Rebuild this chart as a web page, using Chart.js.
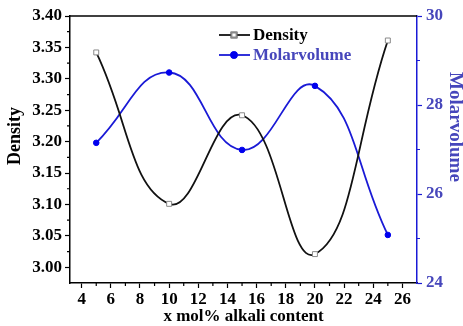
<!DOCTYPE html>
<html lang="en">
<head>
  <meta charset="UTF-8">
  <title>Density and Molarvolume vs alkali content</title>
  <script src="https://cdn.jsdelivr.net/npm/chart.js"></script>
  <style>
    html, body { margin: 0; padding: 0; background: #fff; }
    #wrap { width: 463px; height: 326px; position: relative; }
  </style>
</head>
<body>
  <div id="wrap"><canvas id="chart"></canvas></div>

  <script>
    // data
    const alkaliContent = [5, 10, 15, 20, 25];
    const density = [3.342, 3.101, 3.242, 3.021, 3.361];
    const molarVolume = [27.15, 28.73, 26.99, 28.43, 25.08];

    // tick labels
    const xTicks = [4, 6, 8, 10, 12, 14, 16, 18, 20, 22, 24, 26];
    const densityTicks = [3.00, 3.05, 3.10, 3.15, 3.20, 3.25, 3.30, 3.35, 3.40];
    const molarTicks = [24, 26, 28, 30];

    const BLUE = '#1a1ad6';
    const BLUE_TEXT = '#4646bb';
    const SERIF = '"Liberation Serif", "DejaVu Serif", serif';

    // small plugin: minor ticks, top frame line, y titles and legend inside plot
    const decor = {
      id: 'decor',
      afterDraw(chart) {
        const ctx = chart.ctx;
        const a = chart.chartArea;
        const sx = chart.scales.x, sy = chart.scales.y, sy1 = chart.scales.y1;
        ctx.save();

        // top frame
        ctx.strokeStyle = '#000';
        ctx.lineWidth = 1.5;
        ctx.beginPath();
        ctx.moveTo(a.left, a.top);
        ctx.lineTo(a.right, a.top);
        ctx.stroke();

        // minor ticks
        ctx.lineWidth = 1.2;
        ctx.beginPath();
        for (let v = 5; v <= 25; v += 2) {
          const px = sx.getPixelForValue(v);
          ctx.moveTo(px, a.bottom); ctx.lineTo(px, a.bottom + 3);
        }
        for (let i = 0; i < densityTicks.length - 1; i++) {
          const py = sy.getPixelForValue(densityTicks[i] + 0.025);
          ctx.moveTo(a.left, py); ctx.lineTo(a.left - 3, py);
        }
        ctx.stroke();
        ctx.strokeStyle = BLUE;
        ctx.beginPath();
        for (let i = 0; i < molarTicks.length - 1; i++) {
          const py = sy1.getPixelForValue(molarTicks[i] + 1);
          ctx.moveTo(a.right, py); ctx.lineTo(a.right + 3, py);
        }
        ctx.stroke();

        // vertical axis titles
        ctx.font = 'bold 18px ' + SERIF;
        ctx.textAlign = 'center';
        ctx.textBaseline = 'middle';
        ctx.fillStyle = '#000';
        ctx.save();
        ctx.translate(15, 136);
        ctx.rotate(-Math.PI / 2);
        ctx.fillText('Density', 0, 0);
        ctx.restore();
        ctx.fillStyle = BLUE_TEXT;
        ctx.font = 'bold 19px ' + SERIF;
        ctx.save();
        ctx.translate(455, 127);
        ctx.rotate(Math.PI / 2);
        ctx.fillText('Molarvolume', 0, 0);
        ctx.restore();

        // legend
        const items = [
          { ds: chart.data.datasets[0], y: 35, color: '#000', marker: 'rect' },
          { ds: chart.data.datasets[1], y: 55, color: BLUE_TEXT, marker: 'circle' }
        ];
        items.forEach(it => {
          ctx.strokeStyle = it.ds.borderColor;
          ctx.lineWidth = 1.8;
          ctx.beginPath();
          ctx.moveTo(219, it.y);
          ctx.lineTo(250, it.y);
          ctx.stroke();
          Chart.helpers.drawPoint(ctx, {
            pointStyle: it.marker,
            radius: it.marker === 'rect' ? 3.5 : 2.8,
            borderWidth: 1
          }, 234, it.y);
          ctx.fillStyle = it.ds.pointBackgroundColor;
          ctx.strokeStyle = it.ds.pointBorderColor;
          ctx.beginPath();
          if (it.marker === 'rect') {
            ctx.rect(231.5, it.y - 2.5, 5, 5);
          } else {
            ctx.arc(234, it.y, 2.8, 0, Math.PI * 2);
          }
          ctx.fill();
          ctx.stroke();
          ctx.font = 'bold 17px ' + SERIF;
          ctx.textAlign = 'left';
          ctx.fillStyle = it.color;
          ctx.fillText(it.ds.label, 253, it.y + 1);
        });

        ctx.restore();
      }
    };

    const tickFont = { family: SERIF, size: 17, weight: 'bold' };

    new Chart(document.getElementById('chart'), {
      type: 'line',
      data: {
        labels: alkaliContent,
        datasets: [
          {
            label: 'Density',
            data: alkaliContent.map((x, i) => ({ x: x, y: density[i] })),
            yAxisID: 'y',
            borderColor: '#111',
            borderWidth: 1.8,
            tension: 0.45,
            pointStyle: 'rect',
            pointRadius: 3.5,
            pointBorderWidth: 1,
            pointBorderColor: '#8a8a8a',
            pointBackgroundColor: '#fff'
          },
          {
            label: 'Molarvolume',
            data: alkaliContent.map((x, i) => ({ x: x, y: molarVolume[i] })),
            yAxisID: 'y1',
            borderColor: BLUE,
            borderWidth: 1.8,
            tension: 0.45,
            pointStyle: 'circle',
            pointRadius: 2.8,
            pointBorderWidth: 1,
            pointBorderColor: '#0000ee',
            pointBackgroundColor: '#0000ee'
          }
        ]
      },
      options: {
        responsive: true,
        maintainAspectRatio: false,
        animation: false,
        layout: { padding: { top: 16, left: 0, right: 0, bottom: 0 } },
        plugins: {
          legend: { display: false },
          tooltip: { enabled: false }
        },
        scales: {
          x: {
            type: 'linear',
            position: 'bottom',
            min: 3.2,
            max: 27,
            afterBuildTicks: s => { s.ticks = xTicks.map(v => ({ value: v })); },
            afterFit: s => { s.height = 43; },
            border: { color: '#000', width: 1.5 },
            grid: { drawOnChartArea: false, tickLength: 5, tickColor: '#000', tickWidth: 1.2 },
            ticks: { color: '#000', font: tickFont, padding: 1, maxRotation: 0 },
            title: {
              display: true,
              text: 'x mol% alkali content',
              color: '#000',
              font: { family: SERIF, size: 17, weight: 'bold', lineHeight: 1.1 },
              padding: 0
            }
          },
          y: {
            position: 'left',
            min: 2.975,
            max: 3.40,
            afterBuildTicks: s => { s.ticks = densityTicks.map(v => ({ value: v })); },
            afterFit: s => { s.width = 70; },
            border: { color: '#000', width: 1.5 },
            grid: { drawOnChartArea: false, tickLength: 5, tickColor: '#000', tickWidth: 1.2 },
            ticks: { color: '#000', font: tickFont, padding: 3, callback: v => v.toFixed(2) }
          },
          y1: {
            position: 'right',
            min: 24,
            max: 30,
            afterBuildTicks: s => { s.ticks = molarTicks.map(v => ({ value: v })); },
            afterFit: s => { s.width = 46; },
            border: { color: BLUE, width: 1.5 },
            grid: { drawOnChartArea: false, tickLength: 5, tickColor: BLUE, tickWidth: 1.2 },
            ticks: { color: BLUE_TEXT, font: tickFont, padding: 4 }
          }
        }
      },
      plugins: [decor]
    });
  </script>
</body>
</html>
